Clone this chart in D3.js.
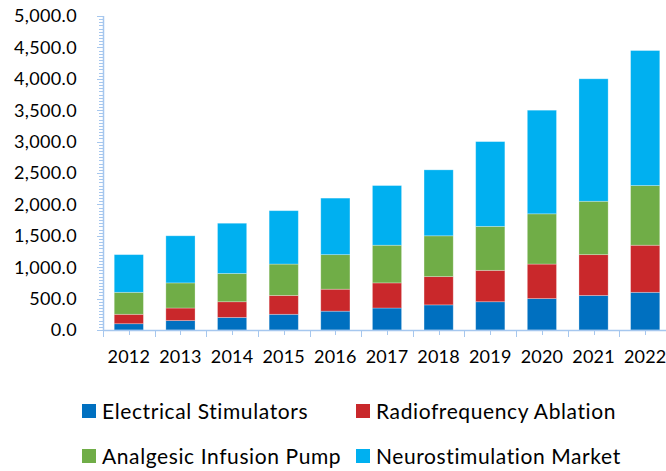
<!DOCTYPE html>
<html><head><meta charset="utf-8">
<script src="https://cdn.jsdelivr.net/npm/d3@7"></script>
<style>body{margin:0;background:#fff}svg{display:block}text{font-family:Lato,"Open Sans",sans-serif;fill:#000}</style>
</head><body>
<svg id="c" width="666" height="471"></svg>
<script>
const years = ["2012","2013","2014","2015","2016","2017","2018","2019","2020","2021","2022"];
const seriesNames = ["Electrical Stimulators","Radiofrequency Ablation","Analgesic Infusion Pump","Neurostimulation Market"];
const electrical = [100,150,200,250,300,350,400,450,500,550,600];
const radiofreq = [150,200,250,300,350,400,450,500,550,650,750];
const analgesic = [350,400,450,500,550,600,650,700,800,850,950];
const neurostim = [600,750,800,850,900,950,1050,1350,1650,1950,2150];
const yTicks = [0,500,1000,1500,2000,2500,3000,3500,4000,4500,5000];
const colors = ["#0070C0","#C9282B","#70AD47","#00B0F0"];

const svg = d3.select("#c");
const x = d3.scaleBand().domain(years).range([103, 671]).paddingInner(0.435).paddingOuter(0.2175);
const xb = d3.scaleBand().domain(years).range([103, 671]);
const y = d3.scaleLinear().domain([0,5000]).range([330,16]);

const rows = years.map((yr,i)=>({year:yr, s0:electrical[i], s1:radiofreq[i], s2:analgesic[i], s3:neurostim[i]}));
const stack = d3.stack().keys(["s0","s1","s2","s3"])(rows);

const axisColor = "#A6C7EE";
// bars
svg.append("g").selectAll("g").data(stack).join("g")
  .attr("fill",(d,i)=>colors[i])
  .selectAll("rect").data(d=>d).join("rect")
  .attr("x",d=>x(d.data.year)).attr("width",x.bandwidth())
  .attr("y",d=>y(d[1])).attr("height",d=>y(d[0])-y(d[1]))
  .attr("stroke","rgba(255,255,255,0.35)").attr("stroke-width",0.8);

// y axis
const ya = svg.append("g");
ya.append("line").attr("x1",103.5).attr("x2",103.5).attr("y1",y(5000)).attr("y2",y(0)).attr("stroke",axisColor).attr("stroke-width",1.5);
const minor = d3.range(0,5001,50);
ya.selectAll("line.m").data(minor).join("line").attr("class","m")
  .attr("x1",d=> d%500===0?97:99).attr("x2",103)
  .attr("y1",d=>Math.round(y(d))+0.5).attr("y2",d=>Math.round(y(d))+0.5)
  .attr("stroke",axisColor).attr("stroke-width",1);
ya.selectAll("text").data(yTicks).join("text")
  .attr("x",77).attr("y",d=>y(d)).attr("dy","0.36em").attr("text-anchor","end")
  .attr("font-size",18).attr("letter-spacing",0.35).text(d=>d3.format(",.1f")(d));

// x axis
const xa = svg.append("g");
xa.append("line").attr("x1",103).attr("x2",671).attr("y1",330.5).attr("y2",330.5).attr("stroke",axisColor).attr("stroke-width",1.5);
const bounds = years.map(d=>xb(d)).concat([671]);
xa.selectAll("line.b").data(bounds).join("line").attr("class","b")
  .attr("x1",d=>Math.round(d)+0.5).attr("x2",d=>Math.round(d)+0.5).attr("y1",330).attr("y2",337)
  .attr("stroke",axisColor).attr("stroke-width",1);
xa.selectAll("line.c").data(years).join("line").attr("class","c")
  .attr("x1",d=>Math.round(xb(d)+xb.bandwidth()/2)+0.5).attr("x2",d=>Math.round(xb(d)+xb.bandwidth()/2)+0.5).attr("y1",330).attr("y2",335)
  .attr("stroke",axisColor).attr("stroke-width",1);
xa.selectAll("text").data(years).join("text")
  .attr("x",d=>xb(d)+xb.bandwidth()/2).attr("y",357).attr("dy","0.36em").attr("text-anchor","middle")
  .attr("font-size",18).attr("letter-spacing",0.2).text(d=>d);

// legend
const legPos = [[82,411],[356,411],[82,456],[356,456]];
const lg = svg.append("g").selectAll("g").data(seriesNames).join("g")
  .attr("transform",(d,i)=>`translate(${legPos[i][0]},${legPos[i][1]})`);
lg.append("rect").attr("x",0).attr("y",-7).attr("width",14).attr("height",14).attr("fill",(d,i)=>colors[i]);
lg.append("text").attr("x",20).attr("y",0).attr("dy","0.36em").attr("font-size",21).attr("letter-spacing",0.6).text(d=>d);
</script>
</body></html>
